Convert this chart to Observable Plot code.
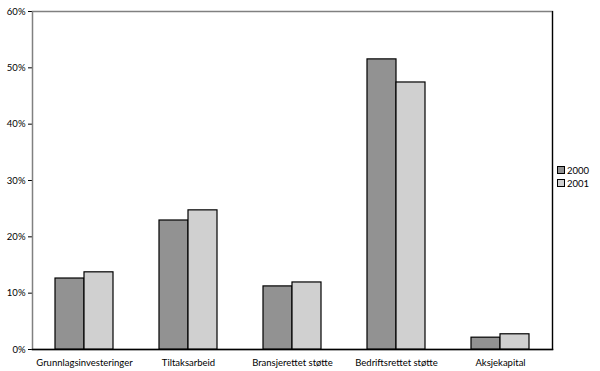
<!DOCTYPE html>
<html><head><meta charset="utf-8">
<script src="https://cdn.jsdelivr.net/npm/d3@7"></script>
<script src="https://cdn.jsdelivr.net/npm/@observablehq/plot@0.6"></script>
<style>
body{margin:0;background:#fff;font-family:Lato,sans-serif;}
#wrap{position:relative;width:600px;height:371px;}
#legend{position:absolute;left:557px;top:164px;font-size:9.5px;line-height:13px;color:#000;}
#legend span.sw{display:inline-block;width:6px;height:6px;border:1px solid #000;margin-right:2px;vertical-align:0px;}
</style></head>
<body><div id="wrap"><div id="legend"></div></div>
<script>
const categories = ["Grunnlagsinvesteringer","Tiltaksarbeid","Bransjerettet støtte","Bedriftsrettet støtte","Aksjekapital"];
const years = ["2000","2001"];
const values2000 = [12.6, 22.9, 11.2, 51.5, 2.1];
const values2001 = [13.7, 24.7, 11.9, 47.4, 2.7];
const colors = ["#929292","#d0d0d0"];
const yTicks = [0,10,20,30,40,50,60];

const rows = [];
categories.forEach((c,i)=>{
  rows.push({cat:c, year:years[0], value:values2000[i]/100});
  rows.push({cat:c, year:years[1], value:values2001[i]/100});
});

const chart = Plot.plot({
  width: 600, height: 371,
  marginLeft: 30, marginRight: 47, marginTop: 11, marginBottom: 22,
  style: {fontFamily: "Lato, sans-serif", fontSize: "9.5px", color: "#000", background: "#fff"},
  fx: {domain: categories, padding: 0, label: null, tickSize: 0, tickPadding: 10},
  x: {domain: years, paddingInner: 0, paddingOuter: 0.74, axis: null},
  y: {domain: [0, 0.6], ticks: yTicks.map(d=>d/100), tickFormat: d3.format(".0%"), label: null, tickSize: 4, tickPadding: 3},
  color: {domain: years, range: colors},
  marks: [
    Plot.frame({facet: "super", stroke: "#808080", strokeWidth: 1.5}),
    Plot.frame({facet: "super", anchor: "right", stroke: "#000", strokeWidth: 1.2}),
    Plot.frame({facet: "super", anchor: "bottom", stroke: "#000", strokeWidth: 1.5}),
    Plot.barY(rows, {fx: "cat", x: "year", y: "value", fill: "year", stroke: "#000", strokeWidth: 1.2})
  ]
});
document.getElementById("wrap").prepend(chart);
const lg = document.getElementById("legend");
years.forEach((y,i)=>{
  const d = document.createElement("div");
  d.innerHTML = `<span class="sw" style="background:${colors[i]}"></span>${y}`;
  lg.appendChild(d);
});
</script></body></html>
